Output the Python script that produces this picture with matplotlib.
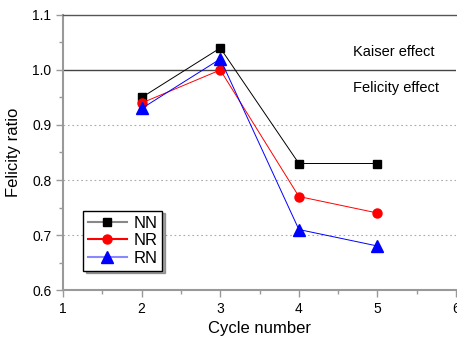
import matplotlib
matplotlib.use("Agg")
import matplotlib.pyplot as plt
from matplotlib.ticker import MultipleLocator

plt.rcParams['font.family'] = ['Liberation Sans', 'DejaVu Sans']

cycles = [2, 3, 4, 5]
nn = [0.95, 1.04, 0.83, 0.83]
nr = [0.94, 1.00, 0.77, 0.74]
rn = [0.93, 1.02, 0.71, 0.68]
labels = ['NN', 'NR', 'RN']

fig = plt.figure(figsize=(4.57, 3.39), dpi=100)
ax = fig.add_axes([0.138, 0.1445, 0.860, 0.8113])

for y in [0.7, 0.8, 0.9]:
    ax.axhline(y, color='#aaaaaa', lw=0.8, ls=(0, (1.5, 2.5)), zorder=0)
ax.axhline(1.0, color='#444444', lw=1.0, zorder=1)

ax.plot(cycles, nn, color='black', lw=0.7, marker='s', ms=6, label=labels[0], zorder=3)
ax.plot(cycles, nr, color='red', lw=0.7, marker='o', ms=6.5, label=labels[1], zorder=3)
ax.plot(cycles, rn, color='blue', lw=0.7, marker='^', ms=8, label=labels[2], zorder=3)

ax.set_xlim(1, 6)
ax.set_ylim(0.6, 1.1)
ax.xaxis.set_major_locator(MultipleLocator(1))
ax.xaxis.set_minor_locator(MultipleLocator(0.5))
ax.yaxis.set_major_locator(MultipleLocator(0.1))
ax.yaxis.set_minor_locator(MultipleLocator(0.05))
ax.yaxis.set_major_formatter(matplotlib.ticker.FormatStrFormatter('%.1f'))

for s in ['left', 'bottom']:
    ax.spines[s].set_color('#999999')
    ax.spines[s].set_linewidth(1.5)
ax.spines['top'].set_color('#555555')
ax.spines['top'].set_linewidth(1.0)
ax.spines['right'].set_visible(False)

ax.tick_params(which='major', direction='out', length=5, width=1, color='#999999', labelsize=10)
ax.tick_params(which='minor', direction='out', length=3, width=1, color='#999999')

ax.set_xlabel('Cycle number', fontsize=12, labelpad=4)
ax.set_ylabel('Felicity ratio', fontsize=12, labelpad=8)

ax.text(4.69, 1.033, 'Kaiser effect', fontsize=10.5, va='center', ha='left')
ax.text(4.69, 0.967, 'Felicity effect', fontsize=10.5, va='center', ha='left')

leg = ax.legend(loc='lower left', bbox_to_anchor=(0.03, 0.04), fontsize=12,
                frameon=True, shadow=True, fancybox=False, handlelength=2.3,
                borderpad=0.3, labelspacing=0.15, handletextpad=0.4)
leg.get_frame().set_edgecolor('black')
leg.get_frame().set_linewidth(1.0)
for h, c in zip(leg.get_lines(), ['#888888', 'red', '#8888ff']):
    h.set_color(c)
    h.set_linewidth(1.5)
leg.get_lines()[0].set_markerfacecolor('black')
leg.get_lines()[0].set_markeredgecolor('black')
leg.get_lines()[1].set_markerfacecolor('red')
leg.get_lines()[1].set_markeredgecolor('red')
leg.get_lines()[2].set_markerfacecolor('blue')
leg.get_lines()[2].set_markeredgecolor('blue')

fig.savefig('out.png', dpi=100)
